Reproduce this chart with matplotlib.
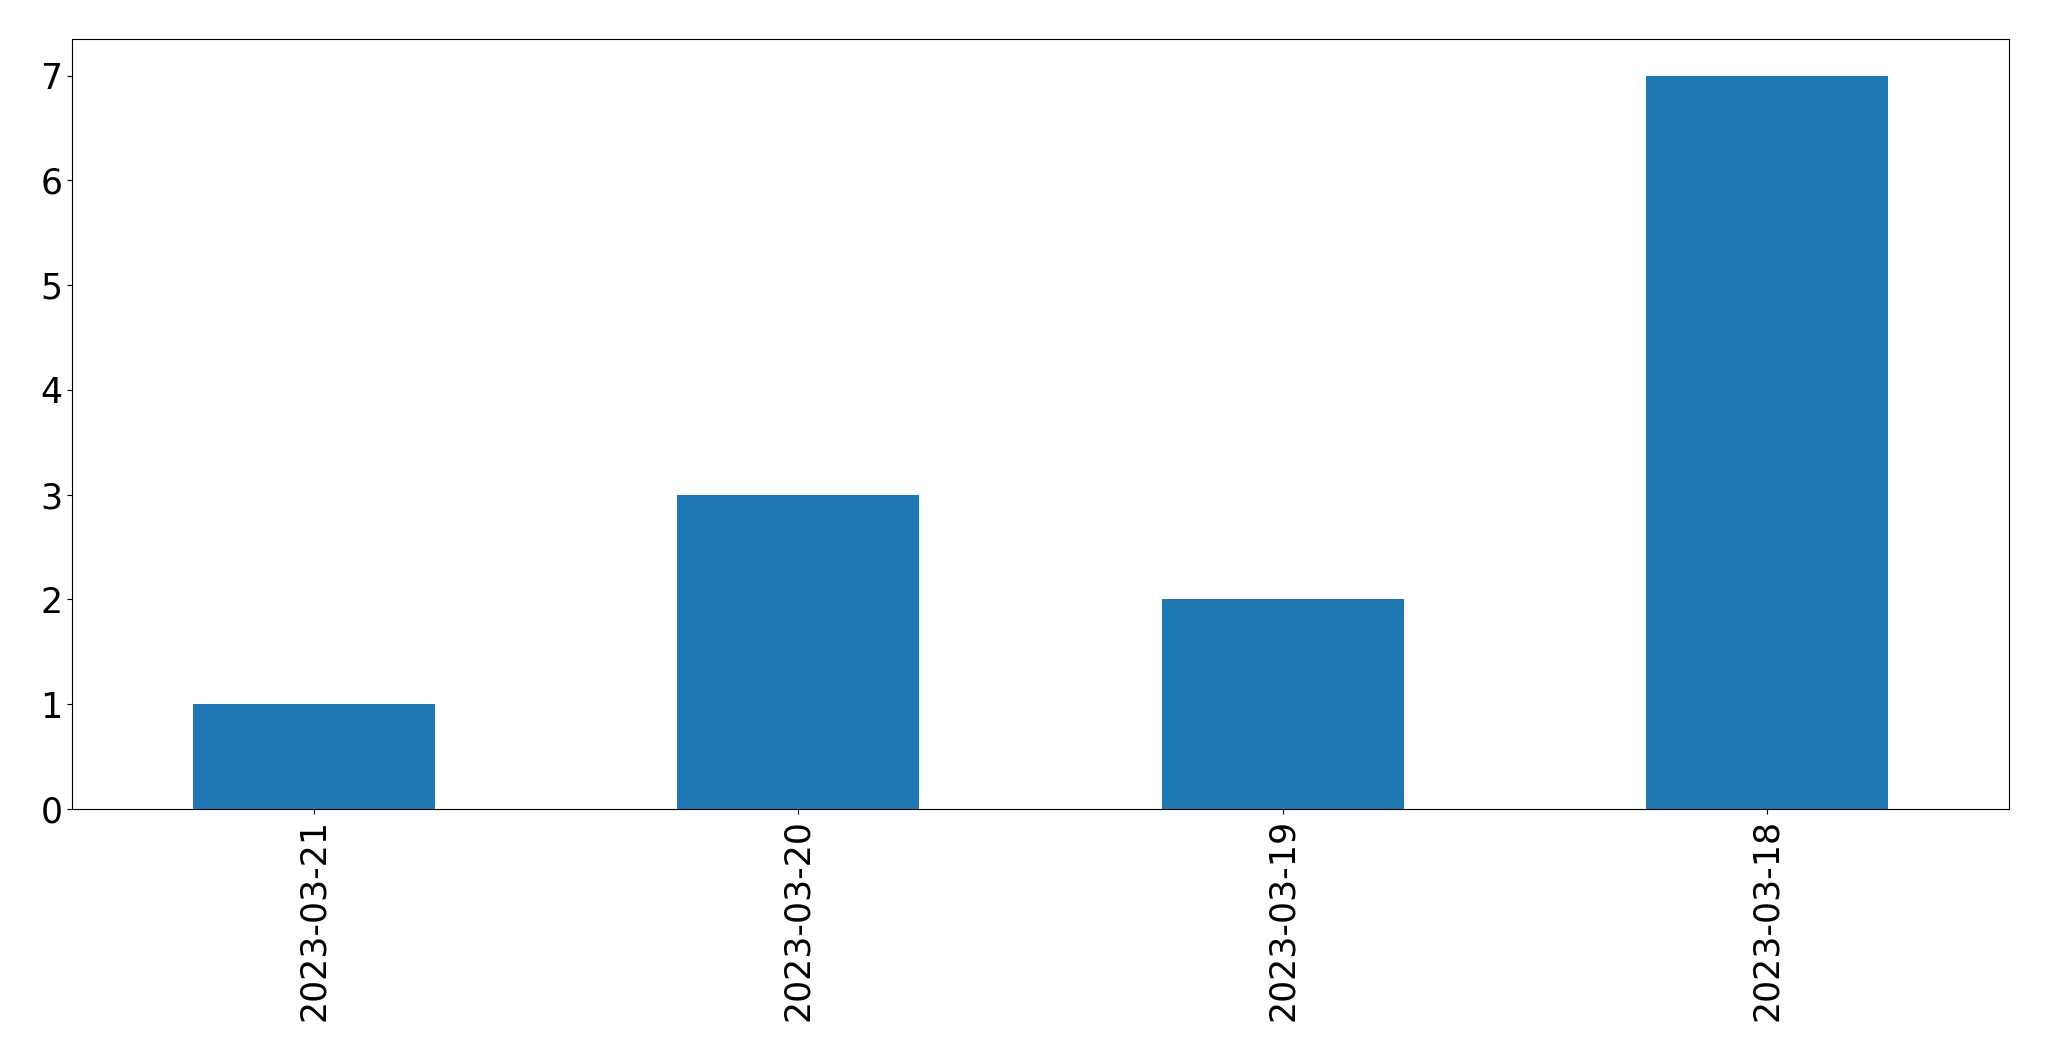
import matplotlib
matplotlib.use("Agg")
import matplotlib.pyplot as plt
import pandas as pd

# counts per day
dates = ['2023-03-21', '2023-03-20', '2023-03-19', '2023-03-18']
counts = [1, 3, 2, 7]

series = pd.Series(counts, index=dates)

fig = plt.figure(figsize=(20.49, 10.61), dpi=100)
ax = fig.add_axes([72 / 2049, 1 - 809 / 1061, (2009 - 72) / 2049, (809 - 39) / 1061])
series.plot(kind='bar', ax=ax, fontsize=25)

plt.savefig('out.png', dpi=100)
